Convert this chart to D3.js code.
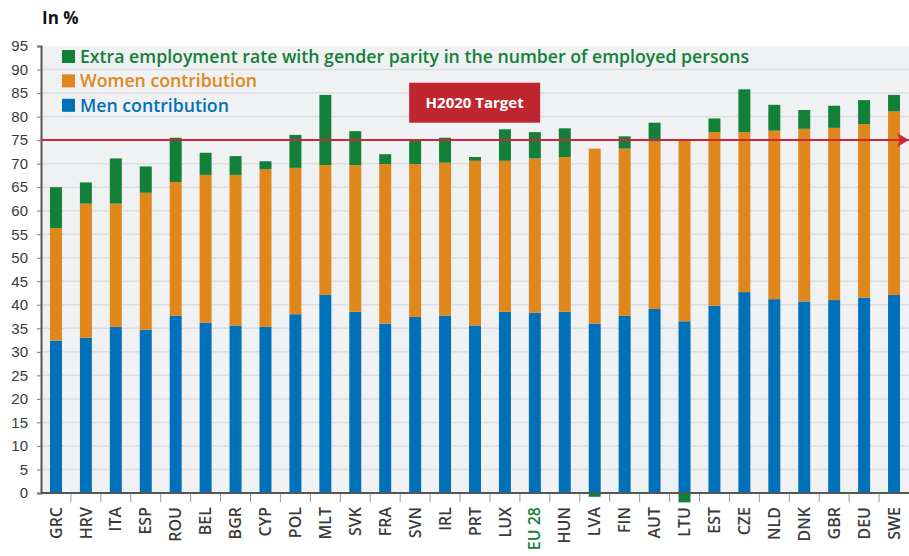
<!DOCTYPE html>
<html>
<head>
<meta charset="utf-8">
<script src="https://cdn.jsdelivr.net/npm/d3@7"></script>
<style>
  body { margin: 0; background: #fff; }
  svg { display: block; font-family: "Open Sans", sans-serif; }
  .axis text { fill: #3a3a3a; }
</style>
</head>
<body>
<svg width="909" height="556"></svg>
<script>
var countries = ["GRC", "HRV", "ITA", "ESP", "ROU", "BEL", "BGR", "CYP", "POL", "MLT",
                 "SVK", "FRA", "SVN", "IRL", "PRT", "LUX", "EU 28", "HUN", "LVA", "FIN",
                 "AUT", "LTU", "EST", "CZE", "NLD", "DNK", "GBR", "DEU", "SWE"];

// contribution des hommes
var men = [32.4, 33.0, 35.3, 34.7, 37.7, 36.2, 35.6, 35.3, 38.0, 42.1,
           38.5, 36.0, 37.4, 37.7, 35.6, 38.5, 38.3, 38.5, 36.0, 37.7,
           39.1, 36.5, 39.8, 42.7, 41.2, 40.7, 41.0, 41.5, 42.1];

var women = [23.9, 28.5, 26.2, 29.1, 28.4, 31.4, 32.0, 33.5, 31.1, 27.6,
             31.2, 33.9, 32.5, 32.5, 35.0, 32.1, 32.8, 32.9, 37.2, 35.5,
             35.6, 38.7, 36.9, 34.0, 35.8, 36.7, 36.6, 36.9, 39.0];

var extra = [8.7, 4.5, 9.6, 5.6, 9.4, 4.7, 4.0, 1.7, 7.0, 14.9,
             7.2, 2.1, 4.9, 5.3, 0.8, 6.7, 5.6, 6.1, -0.8, 2.6,
             4.0, -2.0, 2.9, 9.1, 5.5, 4.0, 4.7, 5.1, 3.5];

var yTicks = d3.range(0, 96, 5);
var target = 75;

var keys = ["men", "women", "extra"];
var colors = {men: "#0070b8", women: "#df871b", extra: "#13803a"};
var legendRows = [
  {key: "extra", label: "Extra employment rate with gender parity in the number of employed persons"},
  {key: "women", label: "Women contribution"},
  {key: "men", label: "Men contribution"}
];

var data = countries.map(function(c, i) {
  return {country: c, men: men[i], women: women[i], extra: extra[i]};
});

var svg = d3.select("svg"),
    margin = {top: 46, right: 0, bottom: 63, left: 41},
    width = +svg.attr("width") - margin.left - margin.right,
    height = +svg.attr("height") - margin.top - margin.bottom,
    g = svg.append("g").attr("transform", "translate(" + margin.left + "," + margin.top + ")");

var x = d3.scaleBand().domain(countries).range([0, width]).paddingInner(0.6).paddingOuter(0.3);
var y = d3.scaleLinear().domain([0, 95]).range([height, 0]);

g.append("rect")
    .attr("width", width)
    .attr("height", height)
    .attr("fill", "#f0f1f3");

// grille
g.append("g")
  .selectAll("line")
  .data(yTicks.filter(function(d) { return d > 0 && d < 95; }))
  .enter().append("line")
    .attr("x1", 0)
    .attr("x2", width)
    .attr("y1", function(d) { return y(d); })
    .attr("y2", function(d) { return y(d); })
    .attr("stroke", "#dcdde0")
    .attr("stroke-width", 1.5);

var series = d3.stack().keys(keys).offset(d3.stackOffsetDiverging)(data);

g.append("g")
  .selectAll("g")
  .data(series)
  .enter().append("g")
    .attr("fill", function(d) { return colors[d.key]; })
  .selectAll("rect")
  .data(function(d) { return d; })
  .enter().append("rect")
    .attr("x", function(d) { return x(d.data.country); })
    .attr("y", function(d) { return y(Math.max(d[0], d[1])); })
    .attr("width", x.bandwidth())
    .attr("height", function(d) { return Math.abs(y(d[0]) - y(d[1])); });

// axe y
var yAxis = g.append("g")
    .attr("class", "axis")
    .call(d3.axisLeft(y).tickValues(yTicks).tickSize(4).tickPadding(9));
yAxis.select(".domain").attr("stroke", "#555").attr("stroke-width", 2);
yAxis.selectAll(".tick line").attr("stroke", "#777");
yAxis.selectAll("text").style("font-size", "15px");

// axe x
var gap = (x.step() - x.bandwidth()) / 2;
var xAxis = g.append("g")
    .attr("class", "axis")
    .attr("transform", "translate(0," + height + ")");
xAxis.append("line")
    .attr("x1", 0).attr("x2", width)
    .attr("stroke", "#555").attr("stroke-width", 2);
xAxis.selectAll(".sep")
  .data(countries.slice(1))
  .enter().append("line")
    .attr("class", "sep")
    .attr("x1", function(d) { return x(d) - gap; })
    .attr("x2", function(d) { return x(d) - gap; })
    .attr("y1", 1)
    .attr("y2", 9)
    .attr("stroke", "#999");
xAxis.selectAll(".lab")
  .data(countries)
  .enter().append("text")
    .attr("class", "lab")
    .attr("transform", function(d) { return "translate(" + (x(d) + x.bandwidth() / 2) + ",14) rotate(-90)"; })
    .attr("dy", "0.35em")
    .attr("text-anchor", "end")
    .style("font-size", "16px")
    .style("font-weight", 600)
    .style("fill", function(d) { return d === "EU 28" ? "#13803a" : "#3a3a3a"; })
    .text(function(d) { return d; });

// objectif 2020
var defs = svg.append("defs");
defs.append("marker")
    .attr("id", "arrow")
    .attr("viewBox", "0 0 12 14")
    .attr("refX", 12)
    .attr("refY", 7)
    .attr("markerWidth", 12)
    .attr("markerHeight", 14)
    .attr("markerUnits", "userSpaceOnUse")
    .attr("orient", "auto")
  .append("path")
    .attr("d", "M0,0L12,7L0,14L3,7Z")
    .attr("fill", "#c8283a");

g.append("line")
    .attr("x1", 0)
    .attr("x2", width)
    .attr("y1", y(target))
    .attr("y2", y(target))
    .attr("stroke", "#c8283a")
    .attr("stroke-width", 2)
    .attr("marker-end", "url(#arrow)");

var badge = g.append("g").attr("transform", "translate(" + x("SVN") + "," + y(87.2) + ")");
badge.append("rect")
    .attr("width", 131)
    .attr("height", 40)
    .attr("fill", "#c0262f");
badge.append("text")
    .attr("x", 65.5)
    .attr("y", 20)
    .attr("dy", "0.35em")
    .attr("text-anchor", "middle")
    .attr("fill", "#fff")
    .style("font-size", "15px")
    .style("font-weight", 700)
    .text("H2020 Target");

// légende
var legend = g.append("g")
  .selectAll("g")
  .data(legendRows)
  .enter().append("g")
    .attr("transform", function(d, i) { return "translate(21," + (4 + i * 24.4) + ")"; });

legend.append("rect")
    .attr("width", 13)
    .attr("height", 13)
    .attr("fill", function(d) { return colors[d.key]; });

legend.append("text")
    .attr("x", 18)
    .attr("y", 6.5)
    .attr("dy", "0.35em")
    .attr("fill", function(d) { return colors[d.key]; })
    .style("font-size", "17.7px")
    .style("font-weight", 600)
    .text(function(d) { return d.label; });

svg.append("text")
    .attr("x", 42)
    .attr("y", 24)
    .style("font-size", "17px")
    .style("font-weight", 700)
    .attr("fill", "#111")
    .text("In %");
</script>
</body>
</html>
